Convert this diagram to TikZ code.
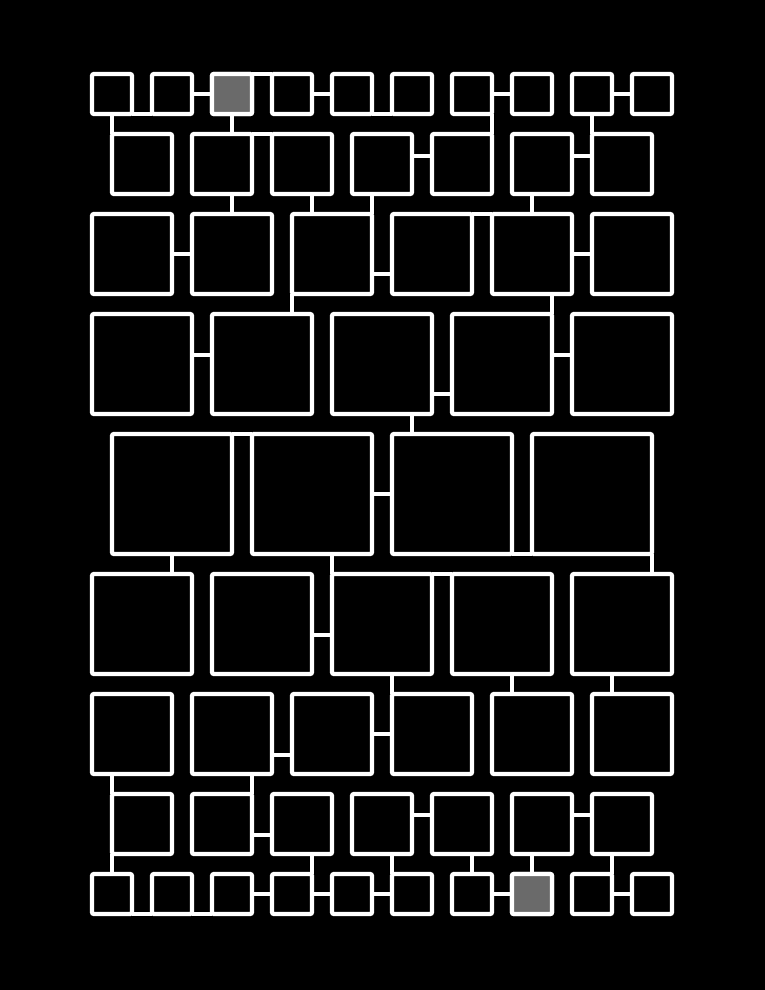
\documentclass[tikz,border=0pt]{standalone}
\definecolor{boxgray}{RGB}{106,106,106}
\tikzset{
  cell/.style={draw=white, line width=4.3pt, fill=black, rounded corners=2pt,
    inner sep=0pt, outer sep=0pt, minimum size=#1},
  conn/.style={draw=white, line width=4.3pt}
}
\begin{document}
\begin{tikzpicture}[x=1pt,y=-1pt]
\fill[black] (0,0) rectangle (765,990);
% rows of boxes
\foreach \i in {1,...,10} \node[cell=40pt] (a\i) at ({112+60*(\i-1)},94) {};
\foreach \i in {1,...,7} \node[cell=60pt] (b\i) at ({142+80*(\i-1)},164) {};
\foreach \i in {1,...,6} \node[cell=80pt] (c\i) at ({132+100*(\i-1)},254) {};
\foreach \i in {1,...,5} \node[cell=100pt] (d\i) at ({142+120*(\i-1)},364) {};
\foreach \i in {1,...,4} \node[cell=120pt] (e\i) at ({172+140*(\i-1)},494) {};
\foreach \i in {1,...,5} \node[cell=100pt] (f\i) at ({142+120*(\i-1)},624) {};
\foreach \i in {1,...,6} \node[cell=80pt] (g\i) at ({132+100*(\i-1)},734) {};
\foreach \i in {1,...,7} \node[cell=60pt] (h\i) at ({142+80*(\i-1)},824) {};
\foreach \i in {1,...,10} \node[cell=40pt] (i\i) at ({112+60*(\i-1)},894) {};
\node[cell=40pt, fill=boxgray] (a3) at (232,94) {};
\node[cell=40pt, fill=boxgray] (i8) at (532,894) {};
% horizontal connectors
\draw[conn] (a1.south east) -- (a2.south west);
\draw[conn] (a2.east) -- (a3.west);
\draw[conn] (a3.north east) -- (a4.north west);
\draw[conn] (a4.east) -- (a5.west);
\draw[conn] (a5.south east) -- (a6.south west);
\draw[conn] (a7.east) -- (a8.west);
\draw[conn] (a9.east) -- (a10.west);
\draw[conn] (b2.north east) -- (b3.north west);
\draw[conn] ([yshift=8pt]b4.east) -- ([yshift=8pt]b5.west);
\draw[conn] ([yshift=8pt]b6.east) -- ([yshift=8pt]b7.west);
\draw[conn] (c1.east) -- (c2.west);
\draw[conn] ([yshift=-20pt]c3.east) -- ([yshift=-20pt]c4.west);
\draw[conn] (c4.north east) -- (c5.north west);
\draw[conn] (c5.east) -- (c6.west);
\draw[conn] ([yshift=9pt]d1.east) -- ([yshift=9pt]d2.west);
\draw[conn] ([yshift=-30pt]d3.east) -- ([yshift=-30pt]d4.west);
\draw[conn] ([yshift=9pt]d4.east) -- ([yshift=9pt]d5.west);
\draw[conn] (e1.north east) -- (e2.north west);
\draw[conn] (e2.east) -- (e3.west);
\draw[conn] (e3.south east) -- (e4.south west);
\draw[conn] ([yshift=-11pt]f2.east) -- ([yshift=-11pt]f3.west);
\draw[conn] (f3.north east) -- (f4.north west);
\draw[conn] ([yshift=-21pt]g2.east) -- ([yshift=-21pt]g3.west);
\draw[conn] (g3.east) -- (g4.west);
\draw[conn] ([yshift=-11pt]h2.east) -- ([yshift=-11pt]h3.west);
\draw[conn] ([yshift=9pt]h4.east) -- ([yshift=9pt]h5.west);
\draw[conn] ([yshift=9pt]h6.east) -- ([yshift=9pt]h7.west);
\draw[conn] (i1.south east) -- (i2.south west);
\draw[conn] (i2.south east) -- (i3.south west);
\draw[conn] (i3.east) -- (i4.west);
\draw[conn] (i4.east) -- (i5.west);
\draw[conn] (i5.east) -- (i6.west);
\draw[conn] (i7.east) -- (i8.west);
\draw[conn] (i9.east) -- (i10.west);
% vertical connectors
\draw[conn] (a1.south) -- (b1.north west);
\draw[conn] (a3.south) -- (a3.south |- b2.north);
\draw[conn] (a7.south east) -- (b5.north east);
\draw[conn] (a9.south) -- (b7.north west);
\draw[conn] (c2.north |- b2.south) -- (c2.north);
\draw[conn] ([xshift=10pt]b3.south) -- ([xshift=10pt]b3.south |- c3.north);
\draw[conn] (c3.north east |- b4.south) -- (c3.north east);
\draw[conn] (c5.north |- b6.south) -- (c5.north);
\draw[conn] (c3.south west) -- (c3.south west |- d2.north);
\draw[conn] (d4.north east |- c5.south) -- (d4.north east);
\draw[conn] ([xshift=30pt]d3.south) -- ([xshift=30pt]d3.south |- e3.north);
\draw[conn] (e1.south) -- (e1.south |- f1.north);
\draw[conn] (f3.north west |- e2.south) -- (f3.north west);
\draw[conn] (e4.south east) -- (e4.south east |- f5.north);
\draw[conn] (g4.north west |- f3.south) -- (g4.north west);
\draw[conn] ([xshift=10pt]f4.south) -- ([xshift=10pt]f4.south |- g5.north);
\draw[conn] ([xshift=-10pt]f5.south) -- ([xshift=-10pt]f5.south |- g6.north);
\draw[conn] (h1.north west |- g1.south) -- (h1.north west);
\draw[conn] (h2.north east |- g2.south) -- (h2.north east);
\draw[conn] (h1.south west) -- (h1.south west |- i1.north);
\draw[conn] (i4.north east |- h3.south) -- (i4.north east);
\draw[conn] (i6.north west |- h4.south) -- (i6.north west);
\draw[conn] (i7.north |- h5.south) -- (i7.north);
\draw[conn] (i8.north |- h6.south) -- (i8.north);
\draw[conn] (i9.north east |- h7.south) -- (i9.north east);
\end{tikzpicture}
\end{document}
